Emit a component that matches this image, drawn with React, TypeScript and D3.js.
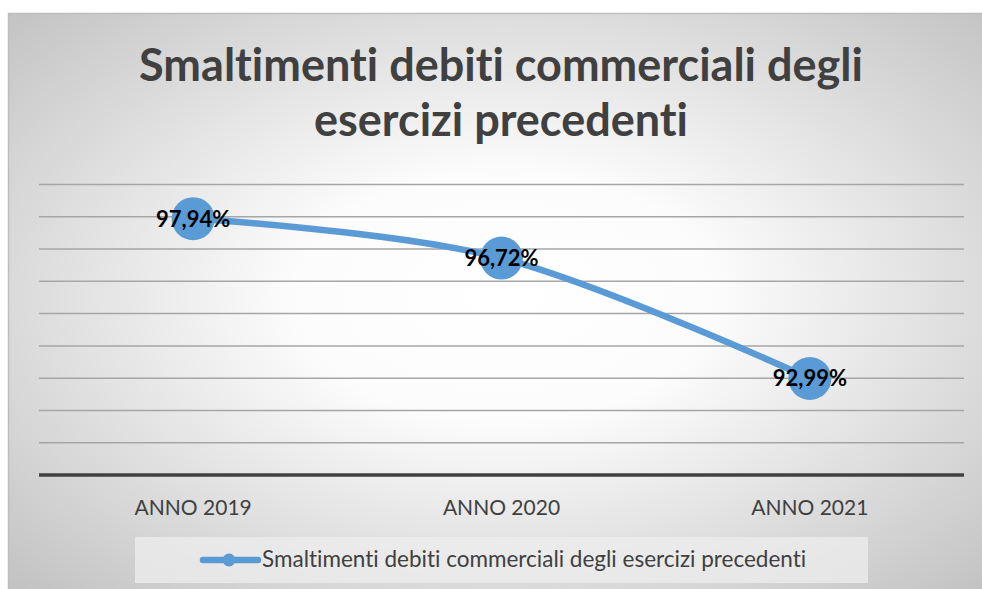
import React from "react";
import * as d3 from "d3";

const categories = ["ANNO 2019", "ANNO 2020", "ANNO 2021"];
const values = [97.94, 96.72, 92.99];
const valueLabels = ["97,94%", "96,72%", "92,99%"];
const yTicks = [90, 91, 92, 93, 94, 95, 96, 97, 98, 99];
const titleLines = ["Smaltimenti debiti commerciali degli", "esercizi precedenti"];
const seriesName = "Smaltimenti debiti commerciali degli esercizi precedenti";

const W = 982;
const H = 589;
const FONT = "Lato, 'Open Sans', sans-serif";
const BLUE = "#5B9BD5";
const noLig = { fontVariantLigatures: "none" as const, fontFeatureSettings: "'liga' 0, 'clig' 0" };

export default function App() {
  const plotLeft = 39;
  const plotRight = 964;
  const x = d3
    .scalePoint<string>()
    .domain(categories)
    .range([plotLeft, plotRight])
    .padding(0.5);
  const y = d3.scaleLinear().domain([90, 99]).range([475, 184.5]);

  const pts: [number, number][] = categories.map((c, i) => [x(c) as number, y(values[i])]);
  const line = d3.line().curve(d3.curveCardinal.tension(0))(pts) || "";

  return (
    <svg
      width={W}
      height={H}
      style={{ position: "absolute", left: 0, top: 0, display: "block" }}
    >
      <defs>
        <radialGradient id="bg" cx="50%" cy="48%" r="70%" fx="50%" fy="48%">
          <stop offset="0%" stopColor="#ffffff" />
          <stop offset="30%" stopColor="#fcfcfc" />
          <stop offset="100%" stopColor="#c2c2c2" />
        </radialGradient>
      </defs>
      <rect x={0} y={0} width={W} height={H} fill="#ffffff" />
      <rect x={8.5} y={13.5} width={990} height={590} fill="url(#bg)" stroke="#bdbdbd" strokeWidth={1.5} />

      {titleLines.map((t, i) => (
        <text
          key={t}
          x={501}
          y={81 + i * 55}
          textAnchor="middle"
          fontFamily={FONT}
          fontWeight={700}
          fontSize={45}
          fill="#404040"
          style={noLig}
        >
          {t}
        </text>
      ))}

      {yTicks.slice(1).map((v) => (
        <line
          key={v}
          x1={plotLeft}
          x2={plotRight}
          y1={y(v)}
          y2={y(v)}
          stroke="#a6a6a6"
          strokeWidth={1.5}
        />
      ))}
      <line x1={plotLeft} x2={plotRight} y1={y(90)} y2={y(90)} stroke="#404040" strokeWidth={3.5} />

      <path d={line} fill="none" stroke={BLUE} strokeWidth={6.5} strokeLinecap="round" />
      {pts.map((p, i) => (
        <circle key={i} cx={p[0]} cy={p[1]} r={21.5} fill={BLUE} />
      ))}
      {pts.map((p, i) => (
        <text
          key={"l" + i}
          x={p[0]}
          y={p[1] + 8}
          textAnchor="middle"
          fontFamily={FONT}
          fontWeight={700}
          fontSize={22}
          fill="#000000"
        >
          {valueLabels[i]}
        </text>
      ))}

      {categories.map((c) => (
        <text
          key={c}
          x={x(c) as number}
          y={515}
          textAnchor="middle"
          fontFamily={FONT}
          fontSize={21}
          fill="#404040"
        >
          {c}
        </text>
      ))}

      <rect x={135} y={537} width={733} height={46} fill="#ededed" fillOpacity={0.75} />
      <line x1={203} x2={258} y1={560} y2={560} stroke={BLUE} strokeWidth={6.5} strokeLinecap="round" />
      <circle cx={229} cy={560} r={6.5} fill={BLUE} />
      <text x={262} y={567} fontFamily={FONT} fontSize={22.5} fill="#404040" style={noLig}>
        {seriesName}
      </text>
    </svg>
  );
}
